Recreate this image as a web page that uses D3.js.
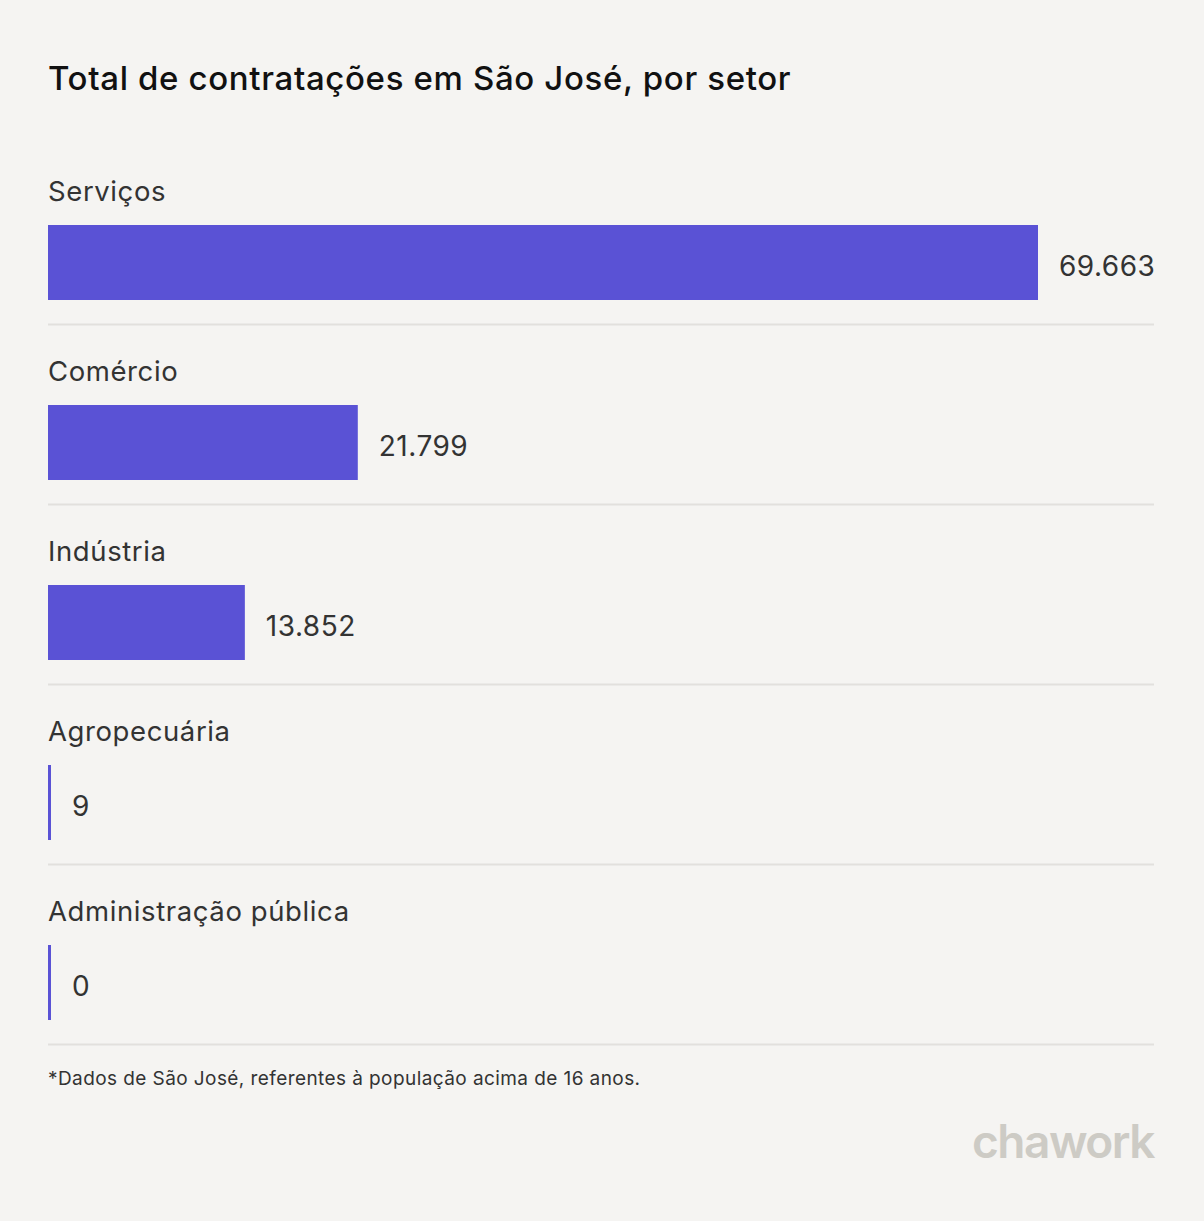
<!DOCTYPE html>
<html><head><meta charset="utf-8">
<script src="https://cdn.jsdelivr.net/npm/d3@7"></script>
<style>
html,body{margin:0;padding:0;background:#f5f4f2;}
svg{display:block;font-family:Inter,"Noto Sans",sans-serif;}
</style></head>
<body>
<svg id="c" width="1204" height="1221"></svg>
<script>
const categories = ["Serviços","Comércio","Indústria","Agropecuária","Administração pública"];
const values = [69663, 21799, 13852, 9, 0];
const valueLabels = ["69.663","21.799","13.852","9","0"];
const title = "Total de contratações em São José, por setor";
const footnote = "*Dados de São José, referentes à população acima de 16 anos.";

const svg = d3.select("#c");
svg.append("rect").attr("width",1204).attr("height",1221).attr("fill","#f5f4f2");

const left = 48, right = 1154, top0 = 145, rowH = 180;
const x = d3.scaleLinear().domain([0, d3.max(values)]).range([0, 990]);
const y = d3.scaleBand().domain(categories).range([top0, top0 + rowH*categories.length]).padding(0);

svg.append("text").attr("x",left).attr("y",90).attr("font-size",33).attr("font-weight",500)
  .attr("letter-spacing",0.65).attr("fill","#111").text(title);

const g = svg.selectAll("g.row").data(categories).join("g").attr("class","row")
  .attr("transform", d => `translate(0,${y(d)})`);

g.append("text").attr("x",left).attr("y",56).attr("font-size",27.5).attr("letter-spacing",0.6)
  .attr("fill","#333").text(d=>d);

g.append("rect").attr("x",left).attr("y",80).attr("height",75)
  .attr("width",(d,i)=>Math.max(3, x(values[i]))).attr("fill","#5a52d5");

g.append("text").attr("x",(d,i)=>left + Math.max(3, x(values[i])) + 21).attr("y",131)
  .attr("font-size",28).attr("letter-spacing",0.5).attr("fill","#333").text((d,i)=>valueLabels[i]);

g.append("line").attr("x1",left).attr("x2",right).attr("y1",179.5).attr("y2",179.5)
  .attr("stroke","#e2e0dd").attr("stroke-width",2);

svg.append("text").attr("x",left).attr("y",1085).attr("font-size",19).attr("letter-spacing",0.42)
  .attr("fill","#333").text(footnote);

svg.append("text").attr("x",right).attr("y",1158).attr("text-anchor","end").attr("font-size",46)
  .attr("font-weight",600).attr("letter-spacing",-1.5).attr("fill","#cdcbc5").text("chawork");
</script>
</body></html>
